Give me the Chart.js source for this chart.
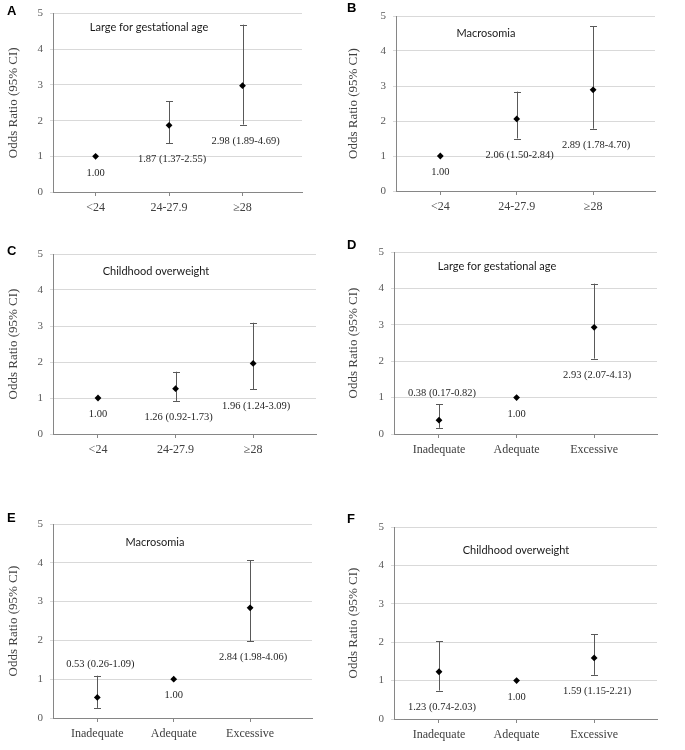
<!DOCTYPE html>
<html><head><meta charset="utf-8">
<script src="https://cdn.jsdelivr.net/npm/chart.js@4.4.1/dist/chart.umd.min.js"></script>
<style>
html,body{margin:0;padding:0;background:#fff;}
#wrap{position:relative;width:685px;height:750px;overflow:hidden;background:#fff;}
canvas.panel{position:absolute;}
</style></head><body><div id="wrap"></div>
<script>
// ---- data ----
const bmiCategories = ['<24', '24-27.9', '\u226528'];
const gwgCategories = ['Inadequate', 'Adequate', 'Excessive'];
const yTickValues = [0, 1, 2, 3, 4, 5];
const yAxisTitle = 'Odds Ratio (95% CI)';
const panelLetters = ['A', 'B', 'C', 'D', 'E', 'F'];
const outcomeTitles = ['Large for gestational age', 'Macrosomia', 'Childhood overweight'];

const lgaByBmiOR   = [1.00, 1.87, 2.98];
const lgaByBmiLow  = [null, 1.37, 1.89];
const lgaByBmiHigh = [null, 2.55, 4.69];

const macroByBmiOR   = [1.00, 2.06, 2.89];
const macroByBmiLow  = [null, 1.50, 1.78];
const macroByBmiHigh = [null, 2.84, 4.70];

const overByBmiOR   = [1.00, 1.26, 1.96];
const overByBmiLow  = [null, 0.92, 1.24];
const overByBmiHigh = [null, 1.73, 3.09];

const lgaByGwgOR   = [0.38, 1.00, 2.93];
const lgaByGwgLow  = [0.17, null, 2.07];
const lgaByGwgHigh = [0.82, null, 4.13];

const macroByGwgOR   = [0.53, 1.00, 2.84];
const macroByGwgLow  = [0.26, null, 1.98];
const macroByGwgHigh = [1.09, null, 4.06];

const overByGwgOR   = [1.23, 1.00, 1.59];
const overByGwgLow  = [0.74, null, 1.15];
const overByGwgHigh = [2.03, null, 2.21];

// ---- layout / style (page pixel coords) ----
const panels = [
  {letter: panelLetters[0], title: outcomeTitles[0], cats: bmiCategories, or: lgaByBmiOR, lo: lgaByBmiLow, hi: lgaByBmiHigh,
   box: {x: 0, y: 0, w: 340, h: 230}, area: {l: 53, r: 302, t: 13.5, b: 192},
   letterPos: [7, 11], titlePos: [149, 27], place: ['below', 'below', 'below']},
  {letter: panelLetters[1], title: outcomeTitles[1], cats: bmiCategories, or: macroByBmiOR, lo: macroByBmiLow, hi: macroByBmiHigh,
   box: {x: 340, y: 0, w: 345, h: 230}, area: {l: 396, r: 655, t: 16, b: 191},
   letterPos: [347, 8], titlePos: [486, 33], place: ['below', 'below', 'below']},
  {letter: panelLetters[2], title: outcomeTitles[2], cats: bmiCategories, or: overByBmiOR, lo: overByBmiLow, hi: overByBmiHigh,
   box: {x: 0, y: 230, w: 340, h: 250}, area: {l: 53, r: 316, t: 254, b: 434},
   letterPos: [7, 251], titlePos: [156, 271], place: ['below', 'below', 'below']},
  {letter: panelLetters[3], title: outcomeTitles[0], cats: gwgCategories, or: lgaByGwgOR, lo: lgaByGwgLow, hi: lgaByGwgHigh,
   box: {x: 340, y: 230, w: 345, h: 250}, area: {l: 394, r: 657, t: 252, b: 434},
   letterPos: [347, 245], titlePos: [497, 266], place: ['above', 'below', 'below']},
  {letter: panelLetters[4], title: outcomeTitles[1], cats: gwgCategories, or: macroByGwgOR, lo: macroByGwgLow, hi: macroByGwgHigh,
   box: {x: 0, y: 480, w: 340, h: 270}, area: {l: 53, r: 312, t: 524, b: 718},
   letterPos: [7, 518], titlePos: [155, 542], place: ['above', 'below', 'below']},
  {letter: panelLetters[5], title: outcomeTitles[2], cats: gwgCategories, or: overByGwgOR, lo: overByGwgLow, hi: overByGwgHigh,
   box: {x: 340, y: 480, w: 345, h: 270}, area: {l: 394, r: 657, t: 527, b: 719},
   letterPos: [347, 519], titlePos: [516, 550], place: ['below', 'below', 'below']}
];

const SERIF = '"Liberation Serif", "Times New Roman", serif';
const SANS = 'Lato, "Liberation Sans", sans-serif';

function fmt(v) { return v.toFixed(2); }

const panelPlugin = {
  id: 'panelDecor',
  beforeDatasetsDraw(chart) {
    const p = chart.options.plugins.panelDecor.p;
    const xs = chart.scales.x, ys = chart.scales.y, ctx = chart.ctx;
    ctx.save();
    ctx.strokeStyle = '#595959';
    ctx.lineWidth = 1;
    p.or.forEach((v, i) => {
      if (p.lo[i] == null) return;
      const x = Math.round(xs.getPixelForValue(i + 1)) + 0.5;
      const yl = ys.getPixelForValue(p.lo[i]);
      const yh = ys.getPixelForValue(p.hi[i]);
      ctx.beginPath();
      ctx.moveTo(x, yh); ctx.lineTo(x, yl);
      ctx.moveTo(x - 3.5, Math.round(yh) + 0.5); ctx.lineTo(x + 3.5, Math.round(yh) + 0.5);
      ctx.moveTo(x - 3.5, Math.round(yl) + 0.5); ctx.lineTo(x + 3.5, Math.round(yl) + 0.5);
      ctx.stroke();
    });
    ctx.restore();
  },
  afterDraw(chart) {
    const p = chart.options.plugins.panelDecor.p;
    const xs = chart.scales.x, ys = chart.scales.y, ctx = chart.ctx;
    ctx.save();
    // value labels
    ctx.font = '10.5px ' + SERIF;
    ctx.fillStyle = '#262626';
    ctx.textAlign = 'center';
    ctx.textBaseline = 'middle';
    p.or.forEach((v, i) => {
      const txt = p.lo[i] == null ? fmt(v) : fmt(v) + ' (' + fmt(p.lo[i]) + '-' + fmt(p.hi[i]) + ')';
      const x = xs.getPixelForValue(i + 1) + (p.lo[i] == null ? 0 : 3);
      let y;
      if (p.place[i] === 'above') {
        y = ys.getPixelForValue(p.hi[i] == null ? v : p.hi[i]) - 11;
      } else {
        y = ys.getPixelForValue(p.lo[i] == null ? v : p.lo[i]) + 16.5;
      }
      ctx.fillText(txt, x, y);
    });
    // outcome title
    ctx.font = '11px ' + SANS;
    ctx.fillStyle = '#1a1a1a';
    ctx.fillText(p.title, p.titlePos[0] - p.box.x, p.titlePos[1] - p.box.y);
    // panel letter
    ctx.font = 'bold 13px "Liberation Sans", Arial, sans-serif';
    ctx.fillStyle = '#000';
    ctx.textAlign = 'left';
    ctx.fillText(p.letter, p.letterPos[0] - p.box.x, p.letterPos[1] - p.box.y);
    ctx.restore();
  }
};

const wrap = document.getElementById('wrap');
panels.forEach(p => {
  const c = document.createElement('canvas');
  c.className = 'panel';
  c.width = p.box.w; c.height = p.box.h;
  c.style.left = p.box.x + 'px'; c.style.top = p.box.y + 'px';
  c.style.width = p.box.w + 'px'; c.style.height = p.box.h + 'px';
  wrap.appendChild(c);
  const yw = p.area.l - p.box.x;
  const xh = p.box.y + p.box.h - p.area.b;
  new Chart(c, {
    type: 'scatter',
    data: {datasets: [{
      data: p.or.map((v, i) => ({x: i + 1, y: v})),
      pointStyle: 'rectRot', pointRadius: 3.4, pointHoverRadius: 3.4,
      backgroundColor: '#000', borderColor: '#000', borderWidth: 0
    }]},
    options: {
      animation: false, responsive: false, devicePixelRatio: 1, events: [],
      layout: {padding: {top: p.area.t - p.box.y, right: p.box.x + p.box.w - p.area.r, left: 0, bottom: 0}},
      plugins: {legend: {display: false}, tooltip: {enabled: false}, panelDecor: {p: p}},
      scales: {
        x: {
          type: 'linear', min: 0.42, max: 3.81,
          afterBuildTicks: s => { s.ticks = p.cats.map((_, i) => ({value: i + 1})); },
          afterFit: s => { s.height = xh; },
          ticks: {callback: v => p.cats[Math.round(v) - 1], font: {family: SERIF, size: 12}, color: '#404040',
                  padding: 5, maxRotation: 0, autoSkip: false},
          grid: {drawOnChartArea: false, drawTicks: true, tickLength: 4, color: '#868686'},
          border: {color: '#868686'}
        },
        y: {
          min: 0, max: 5,
          afterBuildTicks: s => { s.ticks = yTickValues.map(v => ({value: v})); },
          afterFit: s => { s.width = yw; },
          ticks: {font: {family: SERIF, size: 11}, color: '#595959', padding: 7},
          grid: {color: '#d9d9d9', tickLength: 3},
          border: {color: '#868686'},
          title: {display: true, text: yAxisTitle, font: {family: SERIF, size: 13}, color: '#404040', padding: {top: 6, bottom: 0}}
        }
      }
    },
    plugins: [panelPlugin]
  });
});
</script></body></html>
